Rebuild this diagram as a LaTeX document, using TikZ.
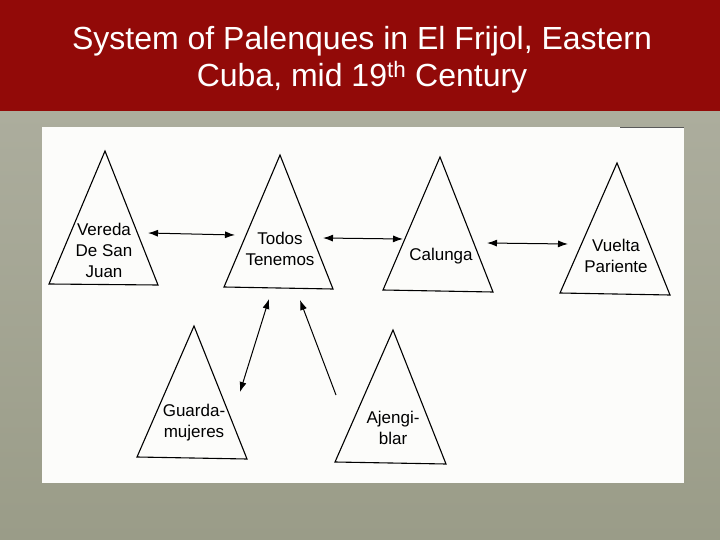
\documentclass[tikz,border=0pt]{standalone}
\usepackage{fontspec}
\setmainfont{Liberation Sans}
\usetikzlibrary{arrows.meta}

\definecolor{titlered}{RGB}{146,10,8}
\definecolor{sagetop}{RGB}{172,173,157}
\definecolor{sagebot}{RGB}{154,156,136}
\definecolor{paper}{RGB}{252,252,250}

\begin{document}
\begin{tikzpicture}[x=1pt, y=-1pt,
  peak/.style={draw, line width=1.1pt, line join=miter},
  lbl/.style={font=\fontsize{17}{21}\selectfont, align=center, inner sep=0pt},
  link/.style={line width=1pt, >={Latex[length=10pt,width=7pt]}}]

\useasboundingbox (0,0) rectangle (720,540);

% background and title bar
\shade[top color=sagetop, bottom color=sagebot] (0,111) rectangle (720,540);
\fill[titlered] (0,0) rectangle (720,111);
\node (title) at (362,60) [text=white, align=center, font=\fontsize{32}{37}\selectfont]
  {System of Palenques in El Frijol, Eastern\\Cuba, mid 19\textsuperscript{th} Century};

% scanned page
\fill[paper] (42,127) rectangle (684,483);
\draw[gray!70!black, line width=1pt] (620,127.5) -- (684,127.5);

% palenques
\draw[peak] (105,151) -- (158,285) -- (49,284) -- cycle;
\node[lbl] (vereda) at (104,250) {Vereda\\De San\\Juan};

\draw[peak] (280,155) -- (333,289) -- (224,287) -- cycle;
\node[lbl] (todos) at (280,249) {Todos\\Tenemos};

\draw[peak] (440,157) -- (493,292) -- (383,290) -- cycle;
\node[lbl] (calunga) at (441,256) {Calunga};

\draw[peak] (617,163) -- (670,295) -- (560,293) -- cycle;
\node[lbl] (vuelta) at (616,256) {Vuelta\\Pariente};

\draw[peak] (194,326) -- (247,459) -- (137,457) -- cycle;
\node[lbl] (guarda) at (194,423) {Guarda-\\mujeres};

\draw[peak] (393,330) -- (446,464) -- (335,462) -- cycle;
\node[lbl] (ajengi) at (393,428) {Ajengi-\\blar};

% arrow ends
\coordinate (v-e) at (148,233);
\coordinate (t-w) at (235,235);
\coordinate (t-e) at (323,238);
\coordinate (c-w) at (403,239);
\coordinate (c-e) at (487,243);
\coordinate (p-w) at (568,244);
\coordinate (t-s1) at (269,299);
\coordinate (t-s2) at (300,300);
\coordinate (g-ne) at (240,392);
\coordinate (a-nw) at (336,395);

\draw[link, <->] (v-e) -- (t-w);
\draw[link, <->] (t-e) -- (c-w);
\draw[link, <->] (c-e) -- (p-w);
\draw[link, <->] (g-ne) -- (t-s1);
\draw[link, ->] (a-nw) -- (t-s2);
\end{tikzpicture}
\end{document}
